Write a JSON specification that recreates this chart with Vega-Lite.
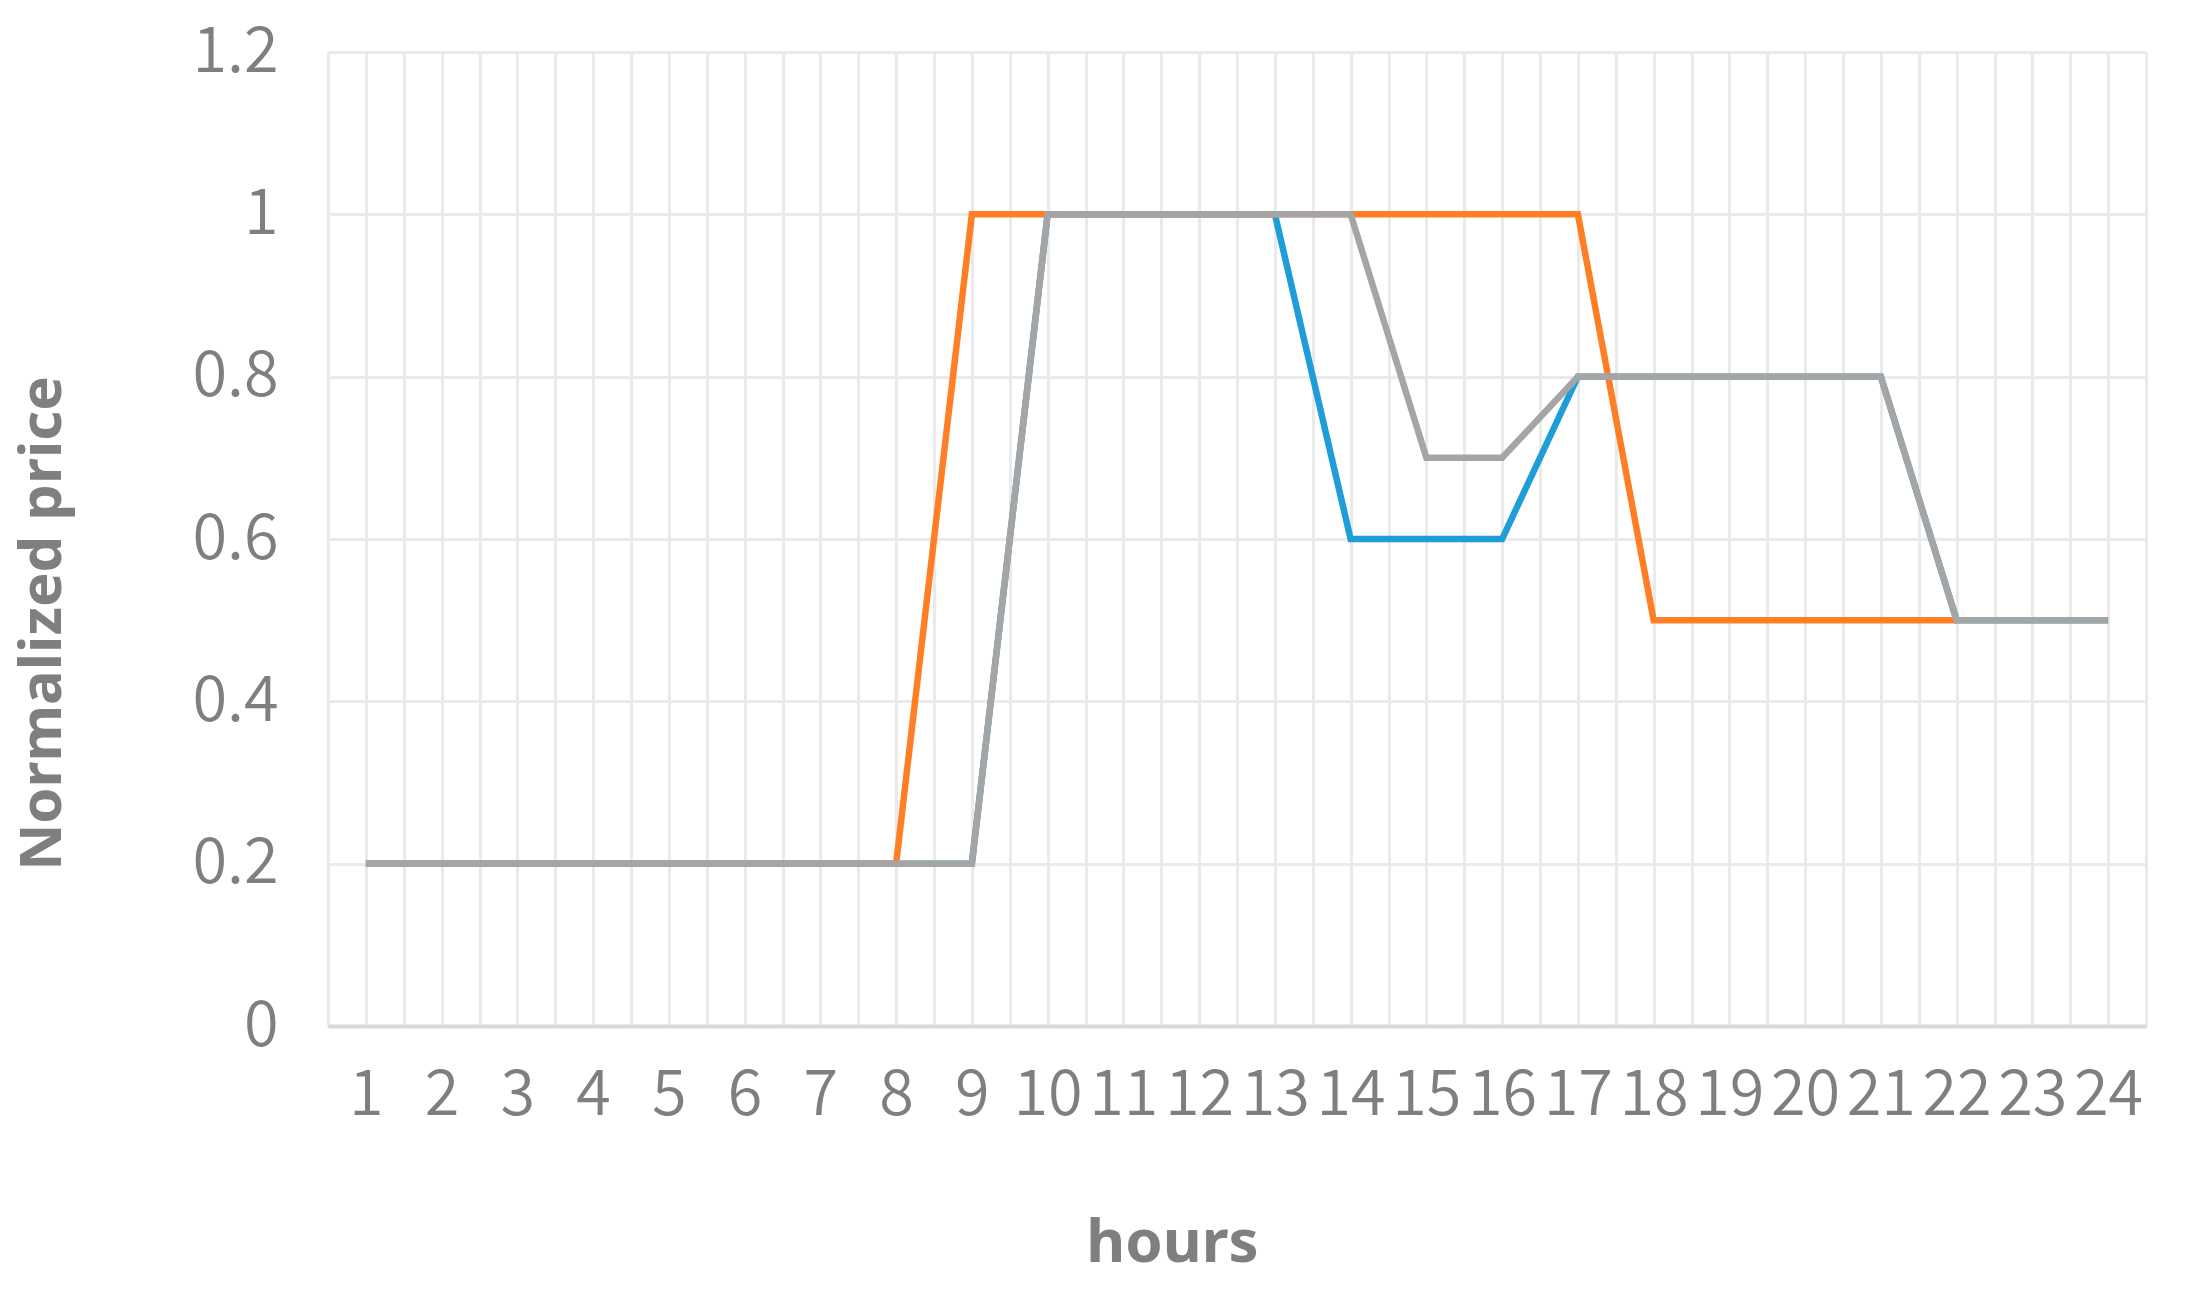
{
  "$schema": "https://vega.github.io/schema/vega-lite/v6.json",
  "autosize": "none",
  "width": 1818,
  "height": 974,
  "padding": {"left": 328, "top": 52, "right": 49, "bottom": 270},
  "background": "white",
  "config": {
    "view": {"stroke": null},
    "font": "Noto Sans CJK SC"
  },
  "data": {
    "values": [
      {"hour": 1, "series": "Series1", "value": 0.2},
      {"hour": 2, "series": "Series1", "value": 0.2},
      {"hour": 3, "series": "Series1", "value": 0.2},
      {"hour": 4, "series": "Series1", "value": 0.2},
      {"hour": 5, "series": "Series1", "value": 0.2},
      {"hour": 6, "series": "Series1", "value": 0.2},
      {"hour": 7, "series": "Series1", "value": 0.2},
      {"hour": 8, "series": "Series1", "value": 0.2},
      {"hour": 9, "series": "Series1", "value": 0.2},
      {"hour": 10, "series": "Series1", "value": 1},
      {"hour": 11, "series": "Series1", "value": 1},
      {"hour": 12, "series": "Series1", "value": 1},
      {"hour": 13, "series": "Series1", "value": 1},
      {"hour": 14, "series": "Series1", "value": 0.6},
      {"hour": 15, "series": "Series1", "value": 0.6},
      {"hour": 16, "series": "Series1", "value": 0.6},
      {"hour": 17, "series": "Series1", "value": 0.8},
      {"hour": 18, "series": "Series1", "value": 0.8},
      {"hour": 19, "series": "Series1", "value": 0.8},
      {"hour": 20, "series": "Series1", "value": 0.8},
      {"hour": 21, "series": "Series1", "value": 0.8},
      {"hour": 22, "series": "Series1", "value": 0.5},
      {"hour": 23, "series": "Series1", "value": 0.5},
      {"hour": 24, "series": "Series1", "value": 0.5},
      {"hour": 1, "series": "Series2", "value": 0.2},
      {"hour": 2, "series": "Series2", "value": 0.2},
      {"hour": 3, "series": "Series2", "value": 0.2},
      {"hour": 4, "series": "Series2", "value": 0.2},
      {"hour": 5, "series": "Series2", "value": 0.2},
      {"hour": 6, "series": "Series2", "value": 0.2},
      {"hour": 7, "series": "Series2", "value": 0.2},
      {"hour": 8, "series": "Series2", "value": 0.2},
      {"hour": 9, "series": "Series2", "value": 1},
      {"hour": 10, "series": "Series2", "value": 1},
      {"hour": 11, "series": "Series2", "value": 1},
      {"hour": 12, "series": "Series2", "value": 1},
      {"hour": 13, "series": "Series2", "value": 1},
      {"hour": 14, "series": "Series2", "value": 1},
      {"hour": 15, "series": "Series2", "value": 1},
      {"hour": 16, "series": "Series2", "value": 1},
      {"hour": 17, "series": "Series2", "value": 1},
      {"hour": 18, "series": "Series2", "value": 0.5},
      {"hour": 19, "series": "Series2", "value": 0.5},
      {"hour": 20, "series": "Series2", "value": 0.5},
      {"hour": 21, "series": "Series2", "value": 0.5},
      {"hour": 22, "series": "Series2", "value": 0.5},
      {"hour": 1, "series": "Series3", "value": 0.2},
      {"hour": 2, "series": "Series3", "value": 0.2},
      {"hour": 3, "series": "Series3", "value": 0.2},
      {"hour": 4, "series": "Series3", "value": 0.2},
      {"hour": 5, "series": "Series3", "value": 0.2},
      {"hour": 6, "series": "Series3", "value": 0.2},
      {"hour": 7, "series": "Series3", "value": 0.2},
      {"hour": 8, "series": "Series3", "value": 0.2},
      {"hour": 9, "series": "Series3", "value": 0.2},
      {"hour": 10, "series": "Series3", "value": 1},
      {"hour": 11, "series": "Series3", "value": 1},
      {"hour": 12, "series": "Series3", "value": 1},
      {"hour": 13, "series": "Series3", "value": 1},
      {"hour": 14, "series": "Series3", "value": 1},
      {"hour": 15, "series": "Series3", "value": 0.7},
      {"hour": 16, "series": "Series3", "value": 0.7},
      {"hour": 17, "series": "Series3", "value": 0.8},
      {"hour": 18, "series": "Series3", "value": 0.8},
      {"hour": 19, "series": "Series3", "value": 0.8},
      {"hour": 20, "series": "Series3", "value": 0.8},
      {"hour": 21, "series": "Series3", "value": 0.8},
      {"hour": 22, "series": "Series3", "value": 0.5},
      {"hour": 23, "series": "Series3", "value": 0.5},
      {"hour": 24, "series": "Series3", "value": 0.5}
    ]
  },
  "encoding": {
    "x": {
      "field": "hour",
      "type": "quantitative",
      "scale": {"domain": [0.5, 24.5], "nice": false, "zero": false},
      "axis": {
        "title": "hours",
        "values": [0.5, 1, 1.5, 2, 2.5, 3, 3.5, 4, 4.5, 5, 5.5, 6, 6.5, 7, 7.5, 8, 8.5, 9, 9.5, 10, 10.5, 11, 11.5, 12, 12.5, 13, 13.5, 14, 14.5, 15, 15.5, 16, 16.5, 17, 17.5, 18, 18.5, 19, 19.5, 20, 20.5, 21, 21.5, 22, 22.5, 23, 23.5, 24, 24.5],
        "labelExpr": "datum.value % 1 == 0 ? format(datum.value, 'd') : ''",
        "grid": true,
        "gridColor": "#eaeaea",
        "gridWidth": 3,
        "ticks": false,
        "domain": true,
        "domainColor": "#d9d9d9",
        "domainWidth": 4,
        "labelFontSize": 63,
        "labelFontWeight": 350,
        "labelColor": "#7f7f7f",
        "labelPadding": 38,
        "labelFlush": false,
        "labelOverlap": false,
        "labelBound": false,
        "titleFont": "Noto Sans",
        "titleFontSize": 60,
        "titleFontWeight": "bold",
        "titleColor": "#7f7f7f",
        "titleX": 844,
        "titleY": 217,
        "titleBaseline": "middle",
        "titleAlign": "center"
      }
    },
    "y": {
      "field": "value",
      "type": "quantitative",
      "scale": {"domain": [0, 1.2], "nice": false},
      "axis": {
        "title": "Normalized price",
        "values": [0, 0.2, 0.4, 0.6, 0.8, 1, 1.2],
        "format": ".1~f",
        "grid": true,
        "gridColor": "#eaeaea",
        "gridWidth": 3,
        "ticks": false,
        "domain": false,
        "labelFontSize": 63,
        "labelFontWeight": 350,
        "labelColor": "#7f7f7f",
        "labelPadding": 50,
        "labelBound": false,
        "labelFlush": false,
        "titleFont": "Noto Sans",
        "titleFontSize": 58,
        "titleFontWeight": "bold",
        "titleColor": "#7f7f7f",
        "titleAngle": -90,
        "titleX": -285,
        "titleY": 571,
        "titleBaseline": "middle",
        "titleAlign": "center"
      }
    }
  },
  "layer": [
    {
      "transform": [{"filter": "datum.series == 'Series1'"}],
      "mark": {"type": "line", "color": "#1f9dd9", "strokeWidth": 6.5}
    },
    {
      "transform": [{"filter": "datum.series == 'Series2'"}],
      "mark": {"type": "line", "color": "#ff7f27", "strokeWidth": 6.5}
    },
    {
      "transform": [{"filter": "datum.series == 'Series3'"}],
      "mark": {"type": "line", "color": "#a5a5a5", "strokeWidth": 6.5}
    }
  ]
}
